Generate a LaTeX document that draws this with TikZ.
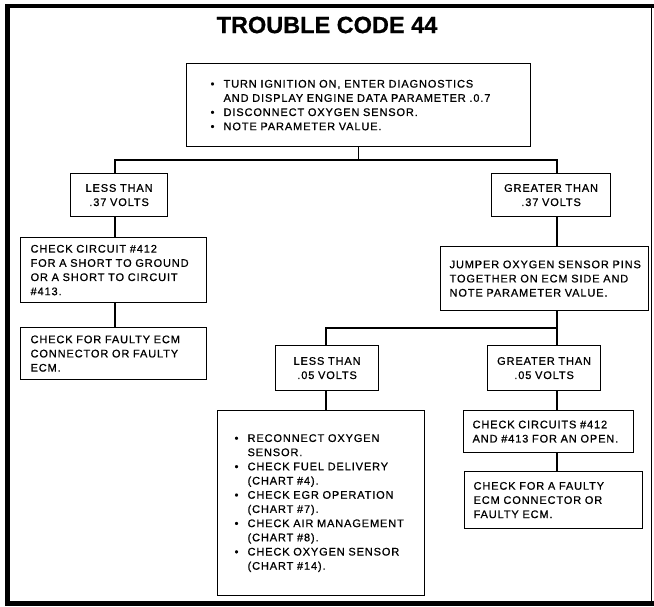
\documentclass[tikz,border=0pt]{standalone}
\usepackage{fontspec}
\setmainfont{Liberation Sans}
\newfontfamily\bodyfont[LetterSpace=8,FakeBold=0.8]{Liberation Sans}
\newfontfamily\headfont[FakeBold=0.6]{Liberation Sans}
\usetikzlibrary{calc}
% bullet with a fixed hanging indent
\newcommand\bul{\makebox[13pt][l]{\textbullet}}
\newcommand\ind{\hspace*{13pt}}

\begin{document}
\begin{tikzpicture}[x=1pt,y=-1pt,
  box/.style={draw, line width=1.2pt, anchor=north west, inner ysep=0pt,
              align=left, font={\bodyfont\fontsize{11}{14.2}\selectfont}},
  cbox/.style={box, align=center, inner xsep=2pt},
  wire/.style={line width=1.2pt},
  rim/.style={line cap=butt}]
\useasboundingbox (0,0) rectangle (654,606);

% outer frame
\draw[rim, line width=5pt] (7.5,4) -- (7.5,605.5);
\draw[rim, line width=4pt] (5,6) -- (654,6);
\draw[rim, line width=5pt] (5,603) -- (654,603);
\draw[rim, line width=1.2pt] (651.5,6) -- (651.5,603);

% heading
\node[font={\headfont\bfseries\fontsize{23.5}{28}\selectfont}] (title) at (327,25) {TROUBLE CODE 44};

% boxes
\node[box, inner xsep=24pt, text width=296pt, minimum height=83pt] (top) at (186,63)
  {\bul TURN IGNITION ON, ENTER DIAGNOSTICS\\
   \ind AND DISPLAY ENGINE DATA PARAMETER .0.7\\
   \bul DISCONNECT OXYGEN SENSOR.\\
   \bul NOTE PARAMETER VALUE.};

\node[cbox, text width=93pt, minimum height=43pt] (l37) at (70,173) {LESS THAN\\.37 VOLTS};
\node[cbox, text width=115pt, minimum height=43pt] (g37) at (491,173) {GREATER THAN\\.37 VOLTS};

\node[box, inner xsep=10pt, text width=166pt, minimum height=65pt] (c412) at (20,237)
  {CHECK CIRCUIT \#412\\FOR A SHORT TO GROUND\\OR A SHORT TO CIRCUIT\\\#413.};
\node[box, inner xsep=10pt, text width=166pt, minimum height=52pt] (ecm1) at (20,327)
  {CHECK FOR FAULTY ECM\\CONNECTOR OR FAULTY\\ECM.};

\node[box, inner xsep=9pt, text width=190pt, minimum height=64pt] (jump) at (440,246)
  {JUMPER OXYGEN SENSOR PINS\\TOGETHER ON ECM SIDE AND\\NOTE PARAMETER VALUE.};

\node[cbox, text width=99pt, minimum height=45pt] (l05) at (275,345) {LESS THAN\\.05 VOLTS};
\node[cbox, text width=109pt, minimum height=45pt] (g05) at (487,345) {GREATER THAN\\.05 VOLTS};

\node[box, inner xsep=17pt, text width=173pt, minimum height=185pt] (rec) at (217,410)
  {\bul RECONNECT OXYGEN\\
   \ind SENSOR.\\
   \bul CHECK FUEL DELIVERY\\
   \ind (CHART \#4).\\
   \bul CHECK EGR OPERATION\\
   \ind (CHART \#7).\\
   \bul CHECK AIR MANAGEMENT\\
   \ind (CHART \#8).\\
   \bul CHECK OXYGEN SENSOR\\
   \ind (CHART \#14).};

\node[box, inner xsep=9pt, text width=152pt, minimum height=42pt] (circ) at (463,410)
  {CHECK CIRCUITS \#412\\AND \#413 FOR AN OPEN.};
\node[box, inner xsep=9pt, text width=160pt, minimum height=57pt] (ecm2) at (464,471)
  {CHECK FOR A FAULTY\\ECM CONNECTOR OR\\FAULTY ECM.};

% branch points
\coordinate (busL) at (115,160);
\coordinate (busR) at (557,160);
\coordinate (subL) at (326,328);
\coordinate (subR) at (557,328);

% connectors
\draw[wire] (top.south) -- (top.south |- busL);
\draw[wire] (busL |- l37.north) -- (busL) -- (busR) -- (busR |- g37.north);
\draw[wire] (busL |- l37.south) -- (busL |- c412.north);
\draw[wire] (busL |- c412.south) -- (busL |- ecm1.north);
\draw[wire] (busR |- g37.south) -- (busR |- jump.north);
\draw[wire] (subR |- jump.south) -- (subR) -- (subL) -- (subL |- l05.north);
\draw[wire] (subR) -- (subR |- g05.north);
\draw[wire] (subL |- l05.south) -- (subL |- rec.north);
\draw[wire] (subR |- g05.south) -- (subR |- circ.north);
\draw[wire] (subR |- circ.south) -- (subR |- ecm2.north);
\end{tikzpicture}
\end{document}
